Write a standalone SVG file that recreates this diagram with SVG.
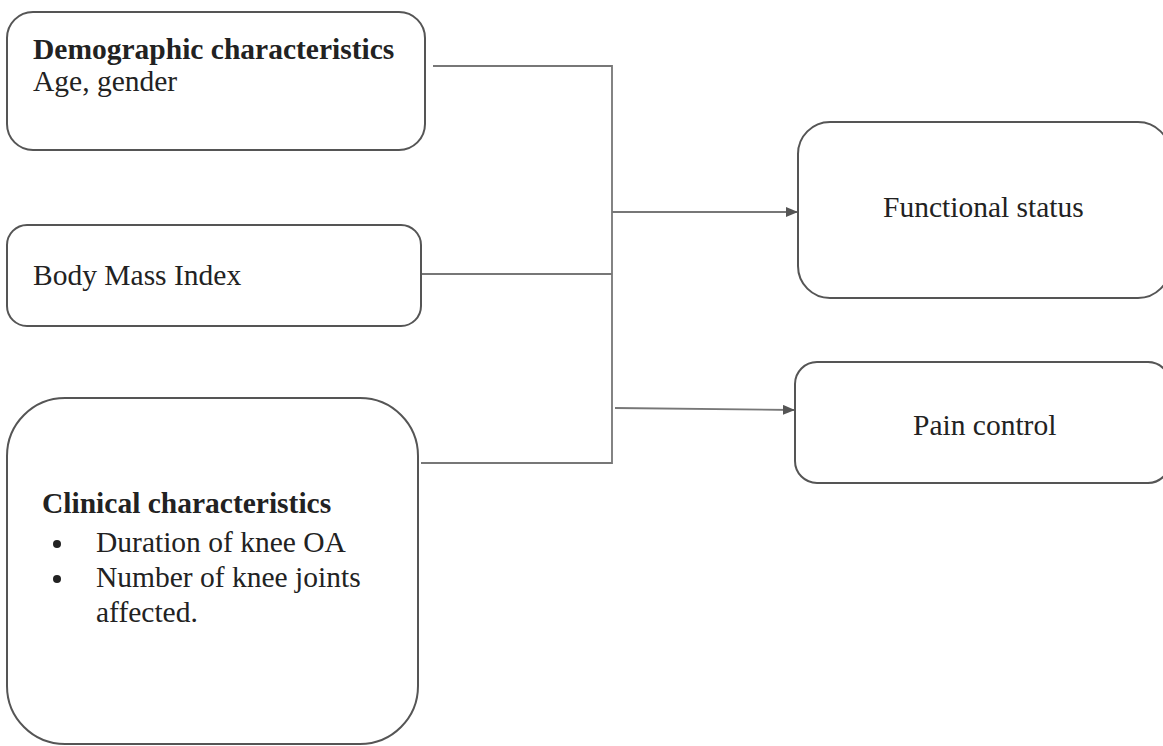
<svg xmlns="http://www.w3.org/2000/svg" width="1163" height="746" viewBox="0 0 1163 746">
<style>
.box{fill:#fff;stroke:#555;stroke-width:2}
.t{font-family:"Liberation Serif","Times New Roman",serif;font-size:29.5px;fill:#222}
.b{font-weight:bold}
.ln{stroke:#777;stroke-width:1.8;fill:none}
</style>
<defs>
<marker id="arr" viewBox="0 0 12 10" refX="12" refY="5" markerWidth="12" markerHeight="10" markerUnits="userSpaceOnUse" orient="auto">
<path d="M0,0 L12,5 L0,10 Z" fill="#555"/>
</marker>
</defs>
<rect width="1163" height="746" fill="#fff"/>
<g id="connectors">
<path class="ln" d="M433,66 H612 V463 H421"/>
<path class="ln" d="M421,274 H612"/>
<path class="ln" d="M612,212 H798" marker-end="url(#arr)"/>
<path class="ln" d="M615,408 L795,410" marker-end="url(#arr)"/>
</g>
<g id="demographic">
<rect class="box" x="7" y="12" width="418" height="138" rx="26"/>
<text class="t b" x="33" y="59">Demographic characteristics</text>
<text class="t" x="33" y="91">Age, gender</text>
</g>
<g id="bmi">
<rect class="box" x="7" y="225" width="414" height="101" rx="20"/>
<text class="t" x="33" y="285">Body Mass Index</text>
</g>
<g id="clinical">
<rect class="box" x="7" y="398" width="411" height="346" rx="58"/>
<text class="t b" x="42" y="513">Clinical characteristics</text>
<circle cx="57" cy="544" r="4" fill="#222"/>
<text class="t" x="96" y="552">Duration of knee OA</text>
<circle cx="57" cy="579" r="4" fill="#222"/>
<text class="t" x="96" y="587">Number of knee joints</text>
<text class="t" x="96" y="622">affected.</text>
</g>
<g id="functional">
<rect class="box" x="798" y="122" width="372" height="176" rx="32"/>
<text class="t" x="883" y="217">Functional status</text>
</g>
<g id="pain">
<rect class="box" x="795" y="362" width="375" height="121" rx="22"/>
<text class="t" x="913" y="435">Pain control</text>
</g>
</svg>
